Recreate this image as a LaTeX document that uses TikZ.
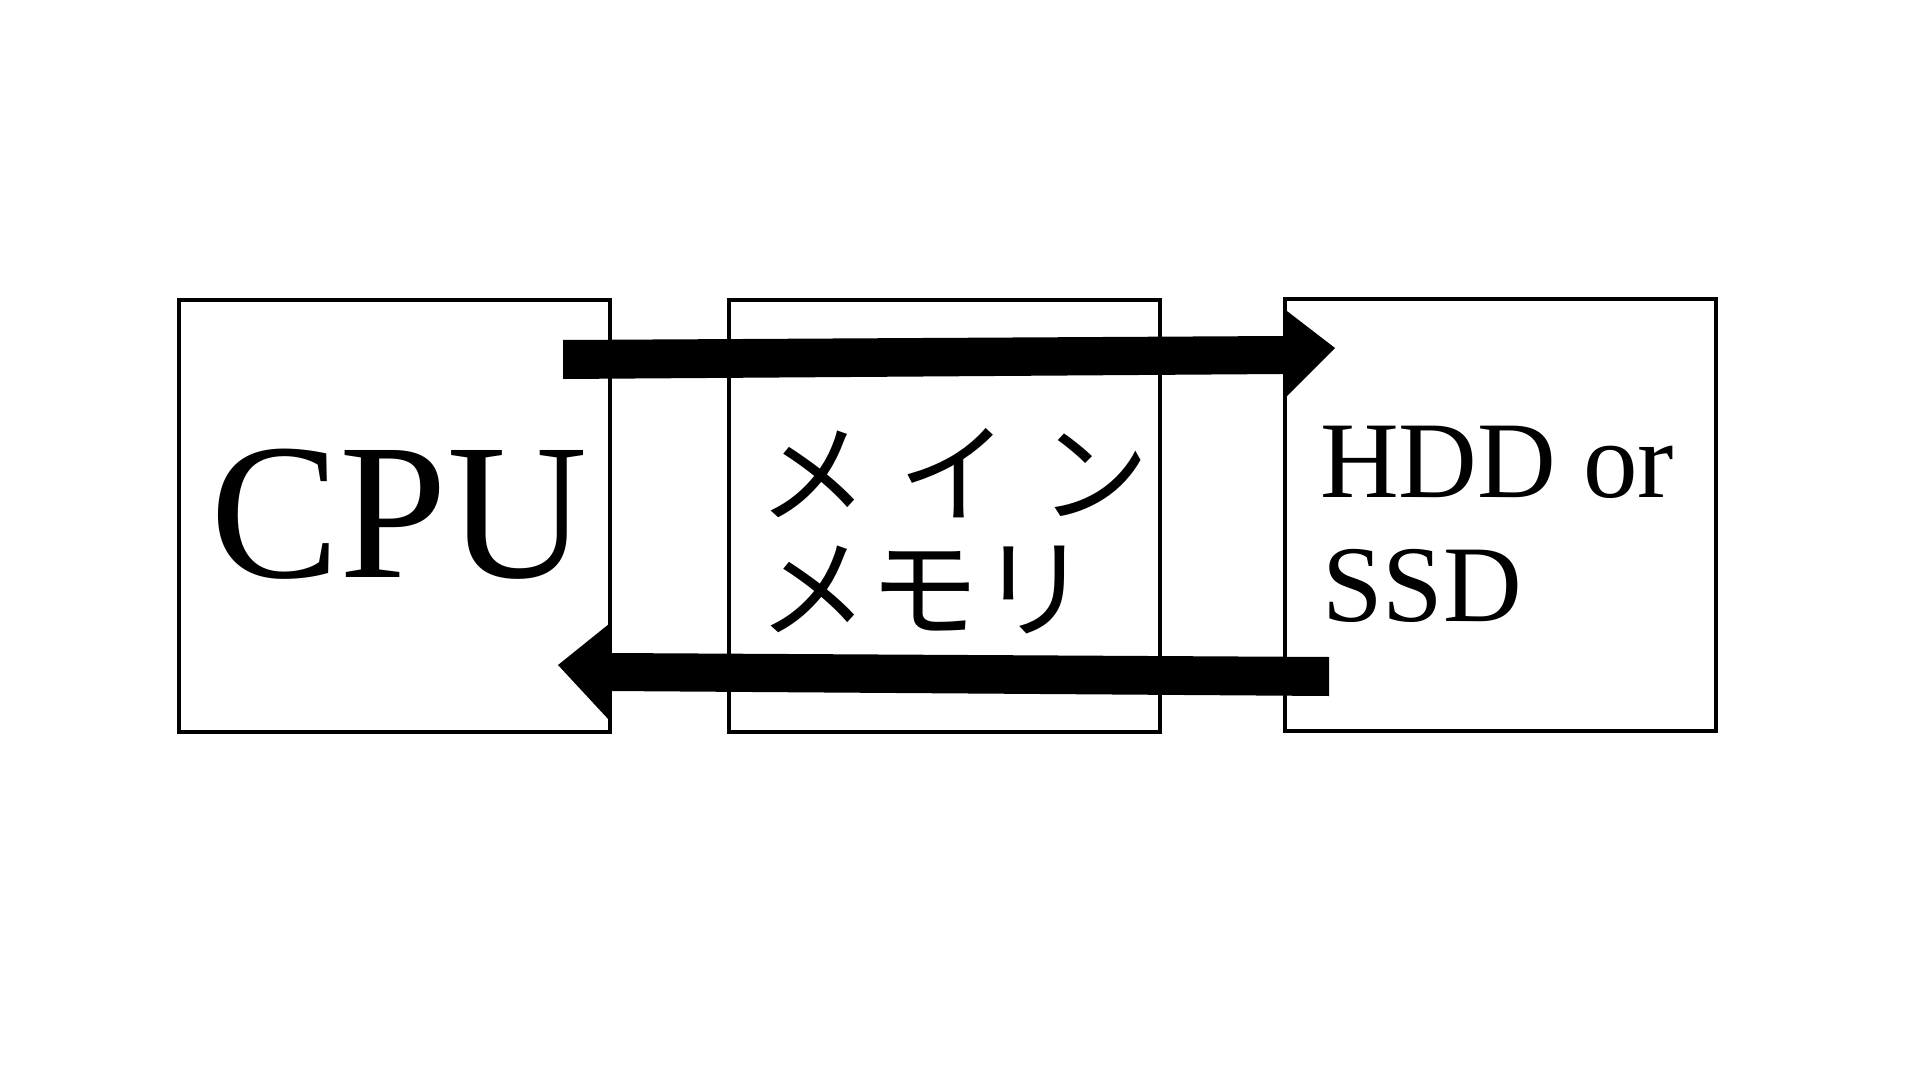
\documentclass[tikz,border=0pt]{standalone}
\usepackage{fontspec}
\usetikzlibrary{calc}
\setmainfont{Liberation Serif}
\newfontfamily\cjk{Noto Sans CJK JP}
\begin{document}
\begin{tikzpicture}[x=0.5pt,y=-0.5pt,
  boxstyle/.style={draw=black,line width=2pt,minimum width=215.5pt,minimum height=216pt,inner sep=0pt,outer sep=0pt},
  bigtext/.style={inner sep=0pt,outer sep=0pt,anchor=base west},
  blockarrow/.style={fill=black}]
\useasboundingbox[fill=white] (0,0) rectangle (1920,1080);
% boxes
\node[boxstyle] (cpu) at (394.5,516) {};
\node[boxstyle] (mem) at (944,516) {};
\node[boxstyle] (hdd) at (1500,515) {};
% texts
\node[bigtext,font=\fontsize{97pt}{97pt}\selectfont] (cputext) at (210,577) {CPU};
\node[bigtext,font=\fontsize{55pt}{55pt}\selectfont\cjk] (memA) at (758,514) {メ\hspace{15.5pt}イ\hspace{15.5pt}ン};
\node[bigtext,font=\fontsize{55pt}{55pt}\selectfont\cjk] (memB) at (758,629) {メ\hspace{1pt}モ\hspace{0pt}リ};
\node[bigtext,font=\fontsize{54.5pt}{54.5pt}\selectfont] (hddA) at (1320,497) {HDD or};
\node[bigtext,font=\fontsize{54.5pt}{54.5pt}\selectfont] (hddB) at (1322,621) {SSD};
% arrow end points
\coordinate (toptail) at (563,359.5);
\coordinate (toptip) at (1335,348);
\coordinate (bottail) at (1329,676.5);
\coordinate (bottip) at (558,665);
% top arrow: CPU -> HDD
\fill[blockarrow] ($(toptail)+(0,-19.5)$) -- (1283,336) -- (1283,308) -- (toptip)
  -- (1283,400) -- (1283,374) -- ($(toptail)+(0,19.5)$) -- cycle;
% bottom arrow: HDD -> CPU
\fill[blockarrow] ($(bottail)+(0,-19.5)$) -- (609,653) -- (609,624) -- (bottip)
  -- (609,720) -- (609,691) -- ($(bottail)+(0,19.5)$) -- cycle;
\end{tikzpicture}
\end{document}
